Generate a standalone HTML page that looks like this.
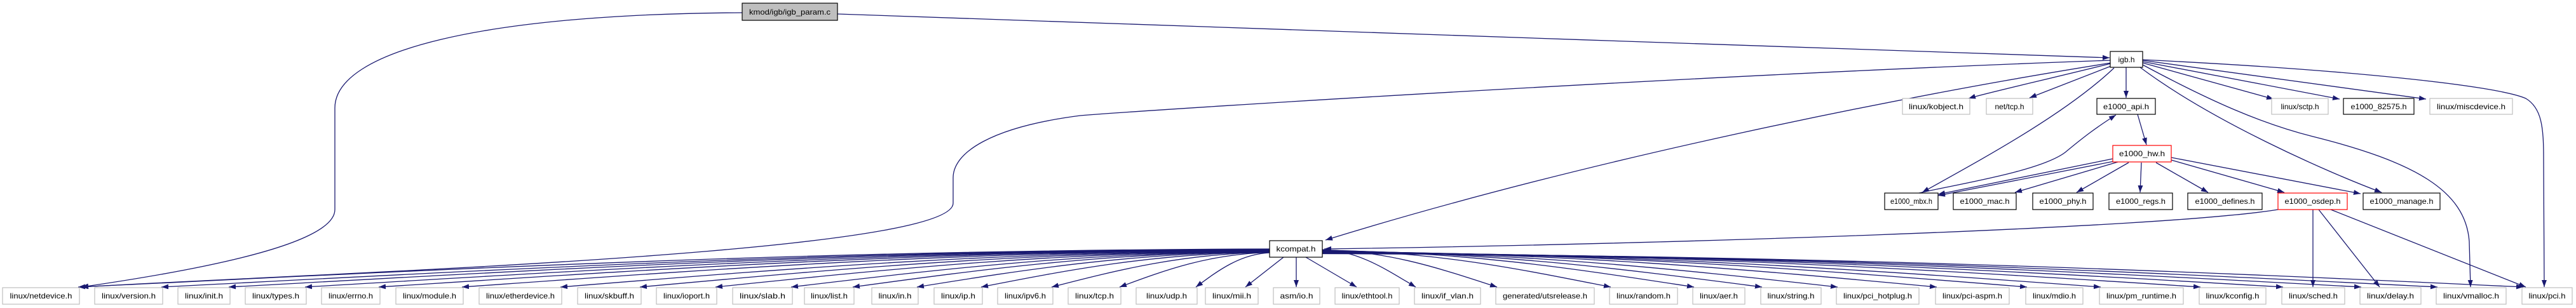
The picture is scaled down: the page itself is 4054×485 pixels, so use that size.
<!DOCTYPE html>
<html><head><meta charset="utf-8"><style>
html,body{margin:0;padding:0;background:#fff;width:4054px;height:485px;overflow:hidden}
svg text{font-family:"Liberation Sans",sans-serif;font-size:12px;fill:#000}
</style></head><body>
<svg id="s" width="4054" height="485" viewBox="0 0 4054 485" xmlns="http://www.w3.org/2000/svg">
<defs><marker id="a" markerUnits="userSpaceOnUse" markerWidth="12" markerHeight="9" refX="11" refY="4" orient="auto"><path d="M0,0 L11,4 L0,8 z" fill="#191970"/></marker></defs>
<g id="edges" fill="none" stroke="#191970" stroke-width="1.3"></g>
<g id="nodes" stroke-width="1.2">
<rect x="1168" y="5" width="150" height="27" fill="#bfbfbf" stroke="#000"/>
<text x="1243" y="23" text-anchor="middle" textLength="128" lengthAdjust="spacingAndGlyphs">kmod/igb/igb_param.c</text>
<rect x="3321" y="81" width="51" height="25" fill="#fff" stroke="#000"/>
<text x="3346.5" y="98" text-anchor="middle">igb.h</text>
<rect x="2994" y="155" width="106" height="25" fill="#fff" stroke="#bfbfbf"/>
<text x="3047" y="172" text-anchor="middle" textLength="86" lengthAdjust="spacingAndGlyphs">linux/kobject.h</text>
<rect x="3126" y="155" width="73" height="25" fill="#fff" stroke="#bfbfbf"/>
<text x="3162.5" y="172" text-anchor="middle">net/tcp.h</text>
<rect x="3300" y="155" width="92" height="25" fill="#fff" stroke="#000"/>
<text x="3346" y="172" text-anchor="middle" textLength="72" lengthAdjust="spacingAndGlyphs">e1000_api.h</text>
<rect x="3575" y="155" width="89" height="25" fill="#fff" stroke="#bfbfbf"/>
<text x="3619.5" y="172" text-anchor="middle">linux/sctp.h</text>
<rect x="3688" y="155" width="111" height="25" fill="#fff" stroke="#000"/>
<text x="3743.5" y="172" text-anchor="middle" textLength="88" lengthAdjust="spacingAndGlyphs">e1000_82575.h</text>
<rect x="3824" y="155" width="130" height="25" fill="#fff" stroke="#bfbfbf"/>
<text x="3889" y="172" text-anchor="middle" textLength="108" lengthAdjust="spacingAndGlyphs">linux/miscdevice.h</text>
<rect x="3325" y="229" width="92" height="26" fill="#fff" stroke="#ff0000"/>
<text x="3371" y="246" text-anchor="middle" textLength="72" lengthAdjust="spacingAndGlyphs">e1000_hw.h</text>
<rect x="2966" y="304" width="84" height="26" fill="#fff" stroke="#000"/>
<text x="3008" y="321" text-anchor="middle" textLength="66" lengthAdjust="spacingAndGlyphs">e1000_mbx.h</text>
<rect x="3074" y="304" width="99" height="26" fill="#fff" stroke="#000"/>
<text x="3123.5" y="321" text-anchor="middle" textLength="78" lengthAdjust="spacingAndGlyphs">e1000_mac.h</text>
<rect x="3199" y="304" width="95" height="26" fill="#fff" stroke="#000"/>
<text x="3246.5" y="321" text-anchor="middle" textLength="74" lengthAdjust="spacingAndGlyphs">e1000_phy.h</text>
<rect x="3319" y="304" width="100" height="26" fill="#fff" stroke="#000"/>
<text x="3369" y="321" text-anchor="middle" textLength="78" lengthAdjust="spacingAndGlyphs">e1000_regs.h</text>
<rect x="3443" y="304" width="117" height="26" fill="#fff" stroke="#000"/>
<text x="3501.5" y="321" text-anchor="middle" textLength="94" lengthAdjust="spacingAndGlyphs">e1000_defines.h</text>
<rect x="3585" y="304" width="109" height="26" fill="#fff" stroke="#ff0000"/>
<text x="3639.5" y="321" text-anchor="middle" textLength="88" lengthAdjust="spacingAndGlyphs">e1000_osdep.h</text>
<rect x="3719" y="304" width="121" height="26" fill="#fff" stroke="#000"/>
<text x="3779.5" y="321" text-anchor="middle" textLength="100" lengthAdjust="spacingAndGlyphs">e1000_manage.h</text>
<rect x="1998" y="379" width="83" height="26" fill="#fff" stroke="#000"/>
<text x="2039.5" y="396" text-anchor="middle" textLength="62" lengthAdjust="spacingAndGlyphs">kcompat.h</text>
</g>
<g id="bottom" fill="#fff" stroke="#bfbfbf" stroke-width="1.2">
<rect x="4" y="453" width="121" height="26"/><rect x="149" y="453" width="107" height="26"/><rect x="280" y="453" width="82" height="26"/><rect x="386" y="453" width="96" height="26"/><rect x="506" y="453" width="92" height="26"/><rect x="623" y="453" width="106" height="26"/><rect x="754" y="453" width="130" height="26"/><rect x="909" y="453" width="100" height="26"/><rect x="1033" y="453" width="95" height="26"/><rect x="1153" y="453" width="94" height="26"/><rect x="1266" y="453" width="78" height="26"/><rect x="1372" y="453" width="73" height="26"/><rect x="1470" y="453" width="76" height="26"/><rect x="1570" y="453" width="87" height="26"/><rect x="1681" y="453" width="83" height="26"/><rect x="1788" y="453" width="96" height="26"/><rect x="1897" y="453" width="83" height="26"/><rect x="2004" y="453" width="73" height="26"/><rect x="2101" y="453" width="101" height="26"/><rect x="2226" y="453" width="104" height="26"/><rect x="2354" y="453" width="155" height="26"/><rect x="2533" y="453" width="107" height="26"/><rect x="2664" y="453" width="82" height="26"/><rect x="2771" y="453" width="95" height="26"/><rect x="2890" y="453" width="130" height="26"/><rect x="3046" y="453" width="116" height="26"/><rect x="3188" y="453" width="90" height="26"/><rect x="3304" y="453" width="132" height="26"/><rect x="3461" y="453" width="105" height="26"/><rect x="3591" y="453" width="99" height="26"/><rect x="3714" y="453" width="96" height="26"/><rect x="3834" y="453" width="110" height="26"/><rect x="3969" y="453" width="79" height="26"/>
</g>
<g text-anchor="middle" lengthAdjust="spacingAndGlyphs">
<text x="64.5" y="470" textLength="98" lengthAdjust="spacingAndGlyphs">linux/netdevice.h</text>
<text x="202.5" y="470" textLength="85" lengthAdjust="spacingAndGlyphs">linux/version.h</text>
<text x="321" y="470" textLength="60" lengthAdjust="spacingAndGlyphs">linux/init.h</text>
<text x="434" y="470" textLength="74" lengthAdjust="spacingAndGlyphs">linux/types.h</text>
<text x="552" y="470" textLength="70" lengthAdjust="spacingAndGlyphs">linux/errno.h</text>
<text x="676" y="470" textLength="84" lengthAdjust="spacingAndGlyphs">linux/module.h</text>
<text x="819" y="470" textLength="108" lengthAdjust="spacingAndGlyphs">linux/etherdevice.h</text>
<text x="959" y="470" textLength="78" lengthAdjust="spacingAndGlyphs">linux/skbuff.h</text>
<text x="1080.5" y="470" textLength="73" lengthAdjust="spacingAndGlyphs">linux/ioport.h</text>
<text x="1200" y="470" textLength="72" lengthAdjust="spacingAndGlyphs">linux/slab.h</text>
<text x="1305" y="470" textLength="58" lengthAdjust="spacingAndGlyphs">linux/list.h</text>
<text x="1408.5" y="470" textLength="52" lengthAdjust="spacingAndGlyphs">linux/in.h</text>
<text x="1508" y="470" textLength="54" lengthAdjust="spacingAndGlyphs">linux/ip.h</text>
<text x="1613.5" y="470" textLength="65" lengthAdjust="spacingAndGlyphs">linux/ipv6.h</text>
<text x="1722.5" y="470" textLength="61" lengthAdjust="spacingAndGlyphs">linux/tcp.h</text>
<text x="1836" y="470" textLength="64" lengthAdjust="spacingAndGlyphs">linux/udp.h</text>
<text x="1938.5" y="470" textLength="61" lengthAdjust="spacingAndGlyphs">linux/mii.h</text>
<text x="2040.5" y="470" textLength="52" lengthAdjust="spacingAndGlyphs">asm/io.h</text>
<text x="2151.5" y="470" textLength="80" lengthAdjust="spacingAndGlyphs">linux/ethtool.h</text>
<text x="2278" y="470" textLength="82" lengthAdjust="spacingAndGlyphs">linux/if_vlan.h</text>
<text x="2431.5" y="470" textLength="133" lengthAdjust="spacingAndGlyphs">generated/utsrelease.h</text>
<text x="2586.5" y="470" textLength="85" lengthAdjust="spacingAndGlyphs">linux/random.h</text>
<text x="2705" y="470" textLength="60" lengthAdjust="spacingAndGlyphs">linux/aer.h</text>
<text x="2818.5" y="470" textLength="74" lengthAdjust="spacingAndGlyphs">linux/string.h</text>
<text x="2955" y="470" textLength="108" lengthAdjust="spacingAndGlyphs">linux/pci_hotplug.h</text>
<text x="3104" y="470" textLength="94" lengthAdjust="spacingAndGlyphs">linux/pci-aspm.h</text>
<text x="3233" y="470" textLength="68" lengthAdjust="spacingAndGlyphs">linux/mdio.h</text>
<text x="3370" y="470" textLength="110" lengthAdjust="spacingAndGlyphs">linux/pm_runtime.h</text>
<text x="3513.5" y="470" textLength="84" lengthAdjust="spacingAndGlyphs">linux/kconfig.h</text>
<text x="3640.5" y="470" textLength="77" lengthAdjust="spacingAndGlyphs">linux/sched.h</text>
<text x="3762" y="470" textLength="74" lengthAdjust="spacingAndGlyphs">linux/delay.h</text>
<text x="3889" y="470" textLength="88" lengthAdjust="spacingAndGlyphs">linux/vmalloc.h</text>
<text x="4008.5" y="470" textLength="58" lengthAdjust="spacingAndGlyphs">linux/pci.h</text>
</g>
</svg>
<script>
var g=document.getElementById('edges');
function P(d){var p=document.createElementNS('http://www.w3.org/2000/svg','path');p.setAttribute('d',d);p.setAttribute('marker-end','url(#a)');g.appendChild(p);}
P('M1318,22 C1800,39 2700,70 3320,91');
P('M1168,20 C760,22 527,80 527,170 L527,330 C527,380 350,420 128,452');
P('M3321,95 C2700,117 1850,170 1700,182 C1560,200 1500,240 1500,280 L1500,320 C1500,400 500,430 128,452');
P('M3322,99 C3000,150 2500,250 2086,378');
P('M3322,100 C3200,130 3120,148 3098,155');
P('M3325,103 L3194,154');
P('M3346,106 L3346,154');
P('M3327,107 C3250,180 3120,250 3025,303');
P('M3372,99 L3578,156');
P('M3372,97 L3682,156');
P('M3372,95 L3818,156');
P('M3368,106 C3480,190 3660,270 3748,303');
P('M3372,102 C3480,160 3560,195 3640,215 C3800,255 3880,300 3886,380 L3888,452');
P('M3372,94 C3700,110 3930,135 3975,155 C4000,170 4003,200 4003,250 L4004,452');
P('M3364,180 L3378,228');
P('M3020,304 C3080,290 3210,270 3250,240 C3280,215 3300,200 3330,181');
P('M3325,250 L3050,306');
P('M3327,254 L3050,308');
P('M3333,255 L3171,303');
P('M3350,256 L3268,303');
P('M3370,256 L3368,303');
P('M3393,256 L3475,303');
P('M3417,252 L3595,303');
P('M3417,248 L3715,305');
P('M3585,330 C3400,360 2600,385 2084,392');
P('M3640,330 L3640,452');
P('M3649,330 L3745,452');
P('M3668,330 L3975,452');
var L=[125,256,362,482,598,729,884,1009,1128,1247,1344,1445,1546,1657,1764,1884];
L.forEach(function(x,i){var sy=392+i*0.4;P('M1998,'+sy.toFixed(1)+' C'+(1998-(1998-x)*0.4)+','+(sy+2)+' '+(x+(1998-x)*0.3)+','+(425)+' '+(x-2)+',452');});
P('M2020,405 L1960,452');
P('M2040,405 L2040,452');
P('M2055,405 L2135,452');
var R=[2226,2354,2533,2664,2771,2890,3046,3188,3304,3461,3591,3714,3834,3969];
R.forEach(function(x,i){var sy=393+i*0.5;P('M2081,'+sy.toFixed(1)+' C'+(2081+(x-2081)*0.4)+','+(sy+2)+' '+(x-(x-2081)*0.3)+',425 '+(x+2)+',452');});
</script>
</body></html>
